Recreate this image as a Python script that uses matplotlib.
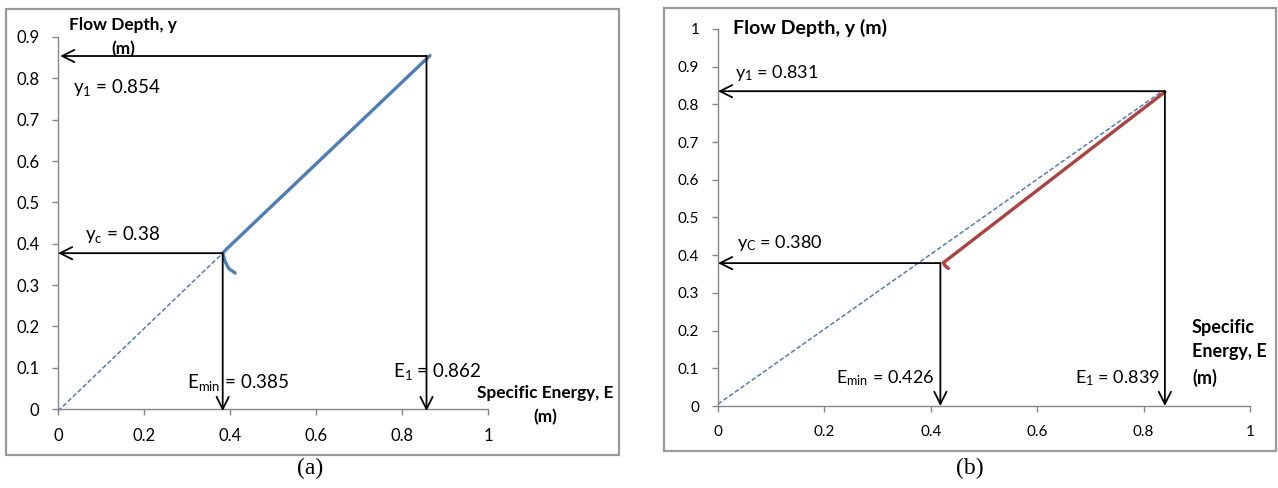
import matplotlib
matplotlib.use('Agg')
import matplotlib.pyplot as plt
from matplotlib.patches import Rectangle

plt.rcParams['font.family'] = ['Lato', 'DejaVu Sans']
plt.rcParams['mathtext.fontset'] = 'custom'
plt.rcParams['mathtext.rm'] = 'Lato'
plt.rcParams['mathtext.it'] = 'Lato'

# ---- panel (a) data ----
a_curve_E = [0.412, 0.397, 0.389, 0.383, 0.392, 0.865]
a_curve_y = [0.329, 0.340, 0.356, 0.377, 0.387, 0.855]
a_diag_E = [0.0, 0.383]
a_diag_y = [-0.005, 0.377]
a_y1, a_E1 = 0.854, 0.857
a_yc, a_Emin = 0.377, 0.383
a_xticks = [0, 0.2, 0.4, 0.6, 0.8, 1]
a_xlabels = ['0', '0.2', '0.4', '0.6', '0.8', '1']
a_yticks = [0, 0.1, 0.2, 0.3, 0.4, 0.5, 0.6, 0.7, 0.8, 0.9]
a_ylabels = ['0', '0.1', '0.2', '0.3', '0.4', '0.5', '0.6', '0.7', '0.8', '0.9']

# ---- panel (b) data ----
b_curve_E = [0.433, 0.427, 0.4235, 0.84]
b_curve_y = [0.365, 0.372, 0.380, 0.833]
b_diag_E = [0.0, 0.835]
b_diag_y = [0.005, 0.835]
b_y1, b_E1 = 0.835, 0.84
b_yc, b_Emin = 0.379, 0.418
b_xticks = [0, 0.2, 0.4, 0.6, 0.8, 1]
b_xlabels = ['0', '0.2', '0.4', '0.6', '0.8', '1']
b_yticks = [0, 0.1, 0.2, 0.3, 0.4, 0.5, 0.6, 0.7, 0.8, 0.9, 1]
b_ylabels = ['0', '0.1', '0.2', '0.3', '0.4', '0.5', '0.6', '0.7', '0.8', '0.9', '1']

BLUE = '#4a7ebb'
RED = '#b0413e'
GRAY = '#868686'

fig = plt.figure(figsize=(12.78, 4.88), dpi=100)

# outer frames
fig.patches.append(Rectangle((6/1278, 1-455/488), 613/1278, 446/488, transform=fig.transFigure,
                             fill=False, edgecolor='#999999', lw=1.6))
fig.patches.append(Rectangle((664/1278, 1-451/488), 612/1278, 443/488, transform=fig.transFigure,
                             fill=False, edgecolor='#999999', lw=1.6))


def style_axes(ax, xt, xl, yt, yl, fs):
    for s in ['top', 'right']:
        ax.spines[s].set_visible(False)
    for s in ['left', 'bottom']:
        ax.spines[s].set_color(GRAY)
        ax.spines[s].set_linewidth(1.0)
    ax.set_xticks(xt)
    ax.set_xticklabels(xl)
    ax.set_yticks(yt)
    ax.set_yticklabels(yl)
    ax.tick_params(direction='out', length=4.5, width=1.0, color=GRAY, labelsize=fs, pad=9)


def arrow(ax, x0, y0, x1, y1):
    ax.annotate('', xy=(x1, y1), xytext=(x0, y0),
                arrowprops=dict(arrowstyle='->', color='black', lw=1.3,
                                mutation_scale=22, shrinkA=0, shrinkB=0),
                annotation_clip=False)


# ---- (a) ----
ax1 = fig.add_axes([58/1278, 1-409/488, 430/1278, 372/488])
ax1.set_xlim(0, 1)
ax1.set_ylim(0, 0.9)
style_axes(ax1, a_xticks, a_xlabels, a_yticks, a_ylabels, 12)
ax1.plot(a_diag_E, a_diag_y, '--', color=BLUE, lw=1.1, dashes=(3, 1.5), clip_on=False)
ax1.plot(a_curve_E, a_curve_y, '-', color=BLUE, lw=2.4, solid_capstyle='round', clip_on=False)
arrow(ax1, a_E1, a_y1, 0.005, a_y1)
arrow(ax1, a_E1, a_y1, a_E1, -0.005)
arrow(ax1, a_Emin, a_yc, 0.0, a_yc)
arrow(ax1, a_Emin, a_yc, a_Emin, -0.005)
ax1.text(0.151, 0.9, 'Flow Depth, y\n(m)', ha='center', va='center', fontsize=12.4,
         fontweight='bold', linespacing=1.6)
ax1.text(0.035, 0.777, 'y$_1$ = 0.854', ha='left', va='center', fontsize=13.5)
ax1.text(0.063, 0.421, 'y$_\\mathregular{c}$ = 0.38', ha='left', va='center', fontsize=13.5)
ax1.text(0.30, 0.063, 'E$_{min}$ = 0.385', ha='left', va='center', fontsize=13.5)
ax1.text(0.779, 0.09, 'E$_1$ = 0.862', ha='left', va='center', fontsize=13.5)
ax1.text(1.133, 0.01, 'Specific Energy, E\n(m)', ha='center', va='center', fontsize=12.4,
         fontweight='bold', linespacing=1.6)

# ---- (b) ----
ax2 = fig.add_axes([718/1278, 1-406/488, 532/1278, 377/488])
ax2.set_xlim(0, 1)
ax2.set_ylim(0, 1)
style_axes(ax2, b_xticks, b_xlabels, b_yticks, b_ylabels, 11)
ax2.plot(b_diag_E, b_diag_y, '--', color=BLUE, lw=1.1, dashes=(3, 1.5))
ax2.plot(b_curve_E, b_curve_y, '-', color=RED, lw=2.4, solid_capstyle='round')
arrow(ax2, b_E1, b_y1, 0.0, b_y1)
arrow(ax2, b_E1, b_y1, b_E1, 0.0)
arrow(ax2, b_Emin, b_yc, 0.0, b_yc)
arrow(ax2, b_Emin, b_yc, b_Emin, 0.0)
ax2.text(0.028, 1.003, 'Flow Depth, y (m)', ha='left', va='center', fontsize=14,
         fontweight='bold')
ax2.text(0.032, 0.883, 'y$_1$ = 0.831', ha='left', va='center', fontsize=13)
ax2.text(0.036, 0.432, 'y$_\\mathregular{C}$ = 0.380', ha='left', va='center', fontsize=13)
ax2.text(0.222, 0.074, 'E$_{min}$ = 0.426', ha='left', va='center', fontsize=13)
ax2.text(0.671, 0.074, 'E$_1$ = 0.839', ha='left', va='center', fontsize=13)
ax2.text(0.891, 0.141, 'Specific\nEnergy, E\n(m)', ha='left', va='center', fontsize=13,
         fontweight='bold', linespacing=1.55)

# captions
fig.text(310/1278, 1-468/488, '(a)', ha='center', va='center', fontsize=17,
         family='Liberation Serif')
fig.text(970/1278, 1-468/488, '(b)', ha='center', va='center', fontsize=17,
         family='Liberation Serif')

plt.savefig('out.png', dpi=100)
